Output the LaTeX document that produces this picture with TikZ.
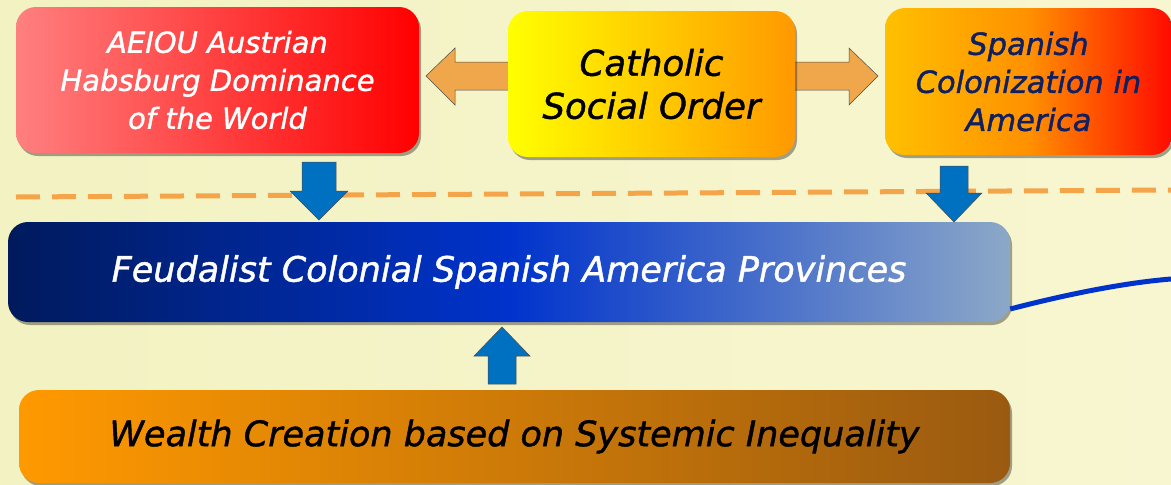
\documentclass[tikz,border=0pt]{standalone}
\usepackage{fontspec}
\setmainfont{DejaVu Sans}
\newfontfamily\boxfont{DejaVu Sans Oblique}[FakeBold=1.2]
\usetikzlibrary{shadows,calc}
\definecolor{bgA}{HTML}{F3F2C2}
\definecolor{bgB}{HTML}{F7F6D0}
\definecolor{arrOr}{HTML}{F0A64A}
\definecolor{arrBl}{HTML}{0070C0}
\definecolor{dashOr}{HTML}{F4A54A}
\definecolor{lineBl}{HTML}{0033CC}
\definecolor{navyTx}{HTML}{0F1F5F}
\tikzset{
  box/.style={rounded corners=20pt, inner sep=0pt, align=center,
    drop shadow={shadow xshift=2pt, shadow yshift=-3pt, opacity=0.35, fill=black}},
  blockarrow/.style={draw=gray!60!black, line width=0.5pt, line join=miter},
}
\begin{document}
\begin{tikzpicture}[x=1pt,y=-1pt]
\useasboundingbox (0,0) rectangle (1171,485);
\clip (0,0) rectangle (1171,485);
\shade[left color=bgA, right color=bgB] (0,0) rectangle (1171,485);

% dashed separator
\draw[dashOr, line width=5pt, dash pattern=on 24pt off 12pt] (16,197) -- (1171,190);

% side arrows (drawn under boxes)
\fill[arrOr, blockarrow] (426,76) -- (455,48) -- (455,62) -- (512,62) -- (512,90) -- (455,90) -- (455,105) -- cycle;
\fill[arrOr, blockarrow] (878,76) -- (849,48) -- (849,62) -- (791,62) -- (791,90) -- (849,90) -- (849,105) -- cycle;

% boxes
\node[box, left color=red!50!white, right color=red, text=white,
  font=\boxfont\fontsize{29}{38}\selectfont,
  minimum width=403pt, minimum height=146pt] (aeiou) at (217.5,80)
  {AEIOU Austrian\\Habsburg Dominance\\of the World};
\node[box, left color=yellow, right color={rgb,255:red,255;green,153;blue,0}, text=black,
  font=\boxfont\fontsize{35.5}{43}\selectfont,
  minimum width=287pt, minimum height=146pt] (cath) at (651.5,84)
  {Catholic\\Social Order};
\node[box, left color={rgb,255:red,255;green,192;blue,0},
  right color={rgb,255:red,255;green,10;blue,0}, middle color={rgb,255:red,255;green,145;blue,0}, text=navyTx,
  font=\boxfont\fontsize{30.5}{38}\selectfont,
  minimum width=287pt, minimum height=147pt] (span) at (1028.5,81.5)
  {Spanish\\Colonization in\\America};
\node[box, left color={rgb,255:red,0;green,26;blue,92},
  right color={rgb,255:red,140;green,168;blue,200}, middle color={rgb,255:red,0;green,51;blue,204}, text=white,
  font=\boxfont\fontsize{35}{40}\selectfont,
  minimum width=1002pt, minimum height=100pt] (feud) at (509,272)
  {Feudalist Colonial Spanish America Provinces};
\node[box, left color={rgb,255:red,255;green,153;blue,0}, right color={rgb,255:red,154;green,90;blue,16}, text=black,
  font=\boxfont\fontsize{35}{40}\selectfont,
  minimum width=991pt, minimum height=93pt] (wealth) at (514.5,436.5)
  {Wealth Creation based on Systemic Inequality};

% vertical block arrows
\fill[arrBl, blockarrow] (302,162) -- (336,162) -- (336,191) -- (348,191) -- (319,220) -- (290,191) -- (302,191) -- cycle;
\fill[arrBl, blockarrow] (940,166) -- (968,166) -- (968,193) -- (982,193) -- (954,222) -- (926,193) -- (940,193) -- cycle;
\fill[arrBl, blockarrow] (488,384) -- (516,384) -- (516,356) -- (530,356) -- (502,327) -- (474,356) -- (488,356) -- cycle;

% blue line
\coordinate (lstart) at ([yshift=-37pt]feud.east);
\coordinate (lend) at (1171,279);
\draw[lineBl, line width=5pt] (lstart) .. controls ($(lstart)+(50,-13)$) and ($(lend)+(-50,4)$) .. (lend);
\end{tikzpicture}
\end{document}
